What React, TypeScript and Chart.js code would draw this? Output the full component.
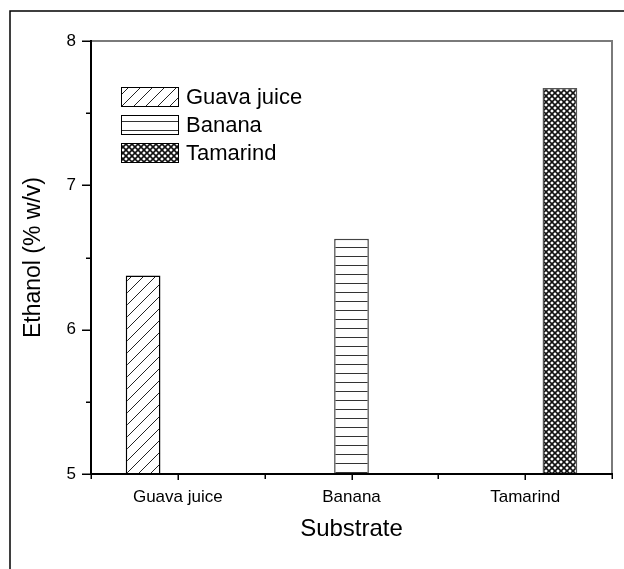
import React, { useEffect, useRef } from "react";
import { Chart, registerables } from "chart.js";

Chart.register(...registerables);

const categories = ["Guava juice", "Banana", "Tamarind"];
const seriesLabels = ["Guava juice", "Banana", "Tamarind"];
const guavaValues = [6.375, null, null];
const bananaValues = [null, 6.63, null];
const tamarindValues = [null, null, 7.675];
const yMin = 5;
const yMax = 8;
const yMinorStep = 0.5;
const yTitle = "Ethanol (% w/v)";
const xTitle = "Substrate";

const FONT = "'Liberation Sans', Arial, sans-serif";

function makePattern(kind: string): CanvasPattern | string {
  const c = document.createElement("canvas");
  const size = kind === "diag" ? 12 : kind === "horiz" ? 9 : 6;
  c.width = size;
  c.height = size;
  const ctx = c.getContext("2d")!;
  ctx.fillStyle = "#fff";
  ctx.fillRect(0, 0, size, size);
  if (kind === "diag") {
    ctx.strokeStyle = "#222";
    ctx.lineWidth = 1;
    ctx.beginPath();
    ctx.moveTo(-1, size + 1);
    ctx.lineTo(size + 1, -1);
    ctx.moveTo(-2, 2);
    ctx.lineTo(2, -2);
    ctx.moveTo(size - 2, size + 2);
    ctx.lineTo(size + 2, size - 2);
    ctx.stroke();
  } else if (kind === "horiz") {
    ctx.fillStyle = "#333";
    ctx.fillRect(0, 4, size, 1);
  } else {
    ctx.strokeStyle = "#111";
    ctx.lineWidth = 1.6;
    ctx.beginPath();
    ctx.moveTo(-1, -1);
    ctx.lineTo(size + 1, size + 1);
    ctx.moveTo(-1, size + 1);
    ctx.lineTo(size + 1, -1);
    ctx.stroke();
  }
  const p = ctx.createPattern(c, "repeat");
  return p || "#fff";
}

const decorPlugin = {
  id: "decor",
  beforeDraw(chart: any) {
    const ctx = chart.ctx;
    ctx.save();
    ctx.fillStyle = "#fff";
    ctx.fillRect(0, 0, chart.width, chart.height);
    ctx.restore();
  },
  afterDraw(chart: any) {
    const ctx = chart.ctx;
    const { left, right, top, bottom } = chart.chartArea;
    const xs = chart.scales.x;
    const ys = chart.scales.y;
    ctx.save();
    // outer border (left and top)
    ctx.strokeStyle = "#000";
    ctx.lineWidth = 1.5;
    ctx.beginPath();
    ctx.moveTo(10, chart.height);
    ctx.lineTo(10, 11);
    ctx.lineTo(chart.width, 11);
    ctx.stroke();
    // frame top/right
    ctx.strokeStyle = "#7a7a7a";
    ctx.lineWidth = 2;
    ctx.beginPath();
    ctx.moveTo(left, top);
    ctx.lineTo(right, top);
    ctx.lineTo(right, bottom);
    ctx.stroke();
    // axes
    ctx.strokeStyle = "#000";
    ctx.lineWidth = 2;
    ctx.beginPath();
    ctx.moveTo(left, top - 1);
    ctx.lineTo(left, bottom);
    ctx.lineTo(right + 1, bottom);
    ctx.stroke();
    // y ticks
    ctx.lineWidth = 1.5;
    ctx.beginPath();
    for (let v = yMin; v <= yMax + 1e-9; v += yMinorStep) {
      const py = Math.round(ys.getPixelForValue(v)) + 0.25;
      const len = Math.abs(v - Math.round(v)) < 1e-9 ? 9 : 5;
      ctx.moveTo(left - len, py);
      ctx.lineTo(left, py);
    }
    // x ticks
    for (let i = 0; i < categories.length; i++) {
      const px = Math.round(xs.getPixelForValue(i)) + 0.25;
      ctx.moveTo(px, bottom);
      ctx.lineTo(px, bottom + 6);
    }
    for (let i = 0; i <= categories.length; i++) {
      const px = Math.round(xs.getPixelForValue(i - 0.5)) + 0.25;
      ctx.moveTo(px, bottom);
      ctx.lineTo(px, bottom + 5);
    }
    ctx.stroke();
    // legend
    const lx = left + 30;
    const ly = top + 46;
    chart.data.datasets.forEach((ds: any, i: number) => {
      const by = ly + i * 28;
      ctx.fillStyle = ds.backgroundColor;
      ctx.fillRect(lx, by, 57, 19);
      ctx.strokeStyle = "#000";
      ctx.lineWidth = 1;
      ctx.strokeRect(lx + 0.5, by + 0.5, 57, 19);
      ctx.fillStyle = "#000";
      ctx.font = `22px ${FONT}`;
      ctx.textAlign = "left";
      ctx.textBaseline = "middle";
      ctx.fillText(ds.label, lx + 65, by + 10.5);
    });
    ctx.restore();
  },
};

export default function App() {
  const ref = useRef<HTMLCanvasElement>(null);
  useEffect(() => {
    if (!ref.current) return;
    const chart = new Chart(ref.current, {
      type: "bar",
      data: {
        labels: categories,
        datasets: [
          {
            label: seriesLabels[0],
            data: guavaValues as any,
            backgroundColor: makePattern("diag") as any,
            borderColor: "#000",
            borderWidth: 1.5,
          },
          {
            label: seriesLabels[1],
            data: bananaValues as any,
            backgroundColor: makePattern("horiz") as any,
            borderColor: "#444",
            borderWidth: 1.5,
          },
          {
            label: seriesLabels[2],
            data: tamarindValues as any,
            backgroundColor: makePattern("cross") as any,
            borderColor: "#555",
            borderWidth: 1.5,
          },
        ],
      },
      options: {
        animation: false,
        responsive: false,
        devicePixelRatio: 1,
        layout: { padding: { left: 0, top: 41, right: 12, bottom: 0 } },
        datasets: { bar: { categoryPercentage: 0.6, barPercentage: 1.0 } },
        plugins: { legend: { display: false }, tooltip: { enabled: false } },
        scales: {
          x: {
            type: "category",
            offset: true,
            grid: { display: false, drawTicks: false },
            border: { display: false },
            ticks: {
              color: "#000",
              font: { family: FONT, size: 17 },
              padding: 13,
              maxRotation: 0,
              autoSkip: false,
            },
            title: {
              display: true,
              text: xTitle,
              color: "#000",
              font: { family: FONT, size: 24 },
              padding: { top: 0, bottom: 25 },
            },
            afterFit: (s: any) => {
              s.height = 95;
            },
          },
          y: {
            min: yMin,
            max: yMax,
            grid: { display: false, drawTicks: false },
            border: { display: false },
            ticks: {
              stepSize: 1,
              color: "#000",
              font: { family: FONT, size: 17 },
              padding: 15,
            },
            title: {
              display: true,
              text: yTitle,
              color: "#000",
              font: { family: FONT, size: 23 },
              padding: { top: 20, bottom: 0 },
            },
            afterFit: (s: any) => {
              s.width = 91;
            },
          },
        },
      },
      plugins: [decorPlugin],
    });
    return () => chart.destroy();
  }, []);
  return (
    <div style={{ position: "fixed", left: 0, top: 0, width: 624, height: 569, background: "#fff" }}>
      <canvas ref={ref} width={624} height={569} style={{ display: "block" }} />
    </div>
  );
}
